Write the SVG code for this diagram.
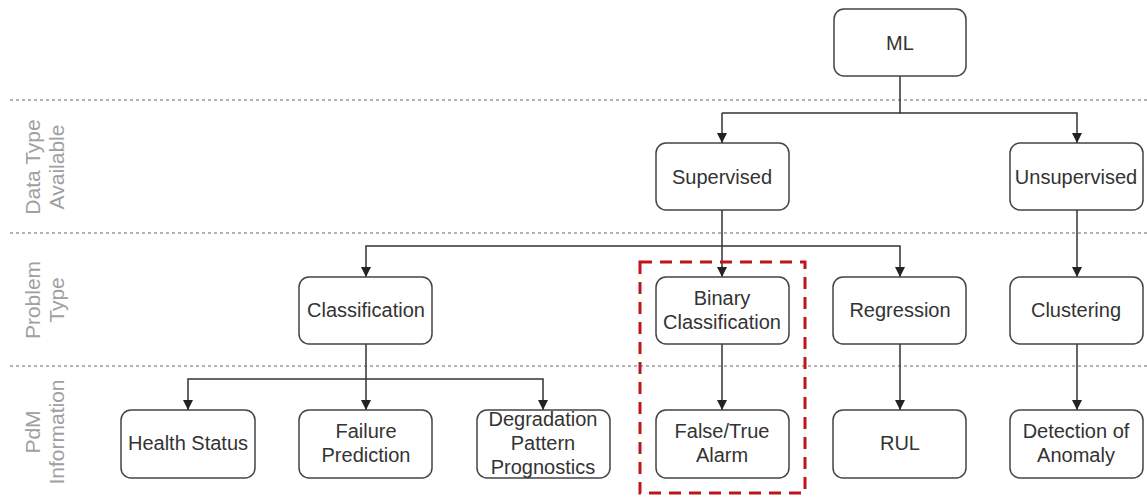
<svg xmlns="http://www.w3.org/2000/svg" width="1147" height="498" viewBox="0 0 1147 498">
<defs>
<marker id="ah" viewBox="0 0 10 10" refX="10" refY="5" markerWidth="10" markerHeight="10" markerUnits="userSpaceOnUse" orient="auto"><path d="M0,0 L10,5 L0,10 z" fill="#222"/></marker>
<style>
.box{fill:#fff;stroke:#444;stroke-width:1.5}
.t{font-family:"Liberation Sans",Arial,sans-serif;font-size:20px;fill:#333;text-anchor:middle}
.lbl{font-family:"Liberation Sans",Arial,sans-serif;font-size:21px;fill:#a0a0a0;text-anchor:middle}
.sep{stroke:#666;stroke-width:1.2;stroke-dasharray:3 3;fill:none}
.c{stroke:#333;stroke-width:1.5;fill:none}
.a{marker-end:url(#ah)}
</style>
</defs>
<rect width="1147" height="498" fill="#fff"/>
<g id="separators">
<line class="sep" x1="10" y1="100" x2="1147" y2="100"/>
<line class="sep" x1="10" y1="233" x2="1147" y2="233"/>
<line class="sep" x1="10" y1="366" x2="1147" y2="366"/>
</g>
<g id="lane-labels">
<text class="lbl" transform="translate(45,167) rotate(-90)"><tspan x="0" y="-5">Data Type</tspan><tspan x="0" y="19">Available</tspan></text>
<text class="lbl" transform="translate(45,300) rotate(-90)"><tspan x="0" y="-5">Problem</tspan><tspan x="0" y="19">Type</tspan></text>
<text class="lbl" transform="translate(45,432) rotate(-90)"><tspan x="0" y="-5">PdM</tspan><tspan x="0" y="19">Information</tspan></text>
</g>
<g id="connectors">
<path class="c" d="M900,76 V113 H722"/>
<path class="c a" d="M722,113 V143"/>
<path class="c a" d="M900,113 H1077 V143"/>
<path class="c a" d="M722,210 V277"/>
<path class="c a" d="M722,246 H366 V277"/>
<path class="c a" d="M722,246 H900 V277"/>
<path class="c a" d="M1077,210 V277"/>
<path class="c a" d="M366,344 V410"/>
<path class="c a" d="M366,379 H188 V410"/>
<path class="c a" d="M366,379 H543 V410"/>
<path class="c a" d="M722,344 V410"/>
<path class="c a" d="M900,344 V410"/>
<path class="c a" d="M1077,344 V410"/>
</g>
<g id="ml"><rect class="box" x="834" y="9" width="132" height="67" rx="10"/><text class="t" x="900" y="50">ML</text></g>
<g id="supervised"><rect class="box" x="656" y="143" width="133" height="67" rx="10"/><text class="t" x="722" y="184">Supervised</text></g>
<g id="unsupervised"><rect class="box" x="1010" y="143" width="133" height="67" rx="10"/><text class="t" x="1076" y="184">Unsupervised</text></g>
<g id="classification"><rect class="box" x="299" y="277" width="133" height="67" rx="10"/><text class="t" x="366" y="317">Classification</text></g>
<g id="binary-classification"><rect class="box" x="656" y="277" width="133" height="67" rx="10"/><text class="t" x="722" y="305">Binary</text><text class="t" x="722" y="329">Classification</text></g>
<g id="regression"><rect class="box" x="833" y="277" width="133" height="67" rx="10"/><text class="t" x="900" y="317">Regression</text></g>
<g id="clustering"><rect class="box" x="1010" y="277" width="133" height="67" rx="10"/><text class="t" x="1076" y="317">Clustering</text></g>
<g id="health-status"><rect class="box" x="121" y="410" width="134" height="68" rx="10"/><text class="t" x="188" y="450">Health Status</text></g>
<g id="failure-prediction"><rect class="box" x="299" y="410" width="133" height="68" rx="10"/><text class="t" x="366" y="438">Failure</text><text class="t" x="366" y="462">Prediction</text></g>
<g id="degradation"><rect class="box" x="477" y="410" width="133" height="68" rx="10"/><text class="t" x="543" y="426">Degradation</text><text class="t" x="543" y="450">Pattern</text><text class="t" x="543" y="474">Prognostics</text></g>
<g id="false-true-alarm"><rect class="box" x="656" y="410" width="133" height="68" rx="10"/><text class="t" x="722" y="438">False/True</text><text class="t" x="722" y="462">Alarm</text></g>
<g id="rul"><rect class="box" x="833" y="410" width="133" height="68" rx="10"/><text class="t" x="900" y="450">RUL</text></g>
<g id="detection-of-anomaly"><rect class="box" x="1010" y="410" width="133" height="68" rx="10"/><text class="t" x="1076" y="438">Detection of</text><text class="t" x="1076" y="462">Anomaly</text></g>
<g id="highlight"><rect x="640" y="262" width="165" height="231" fill="none" stroke="#c0141c" stroke-width="3" stroke-dasharray="12 8"/></g>
</svg>
